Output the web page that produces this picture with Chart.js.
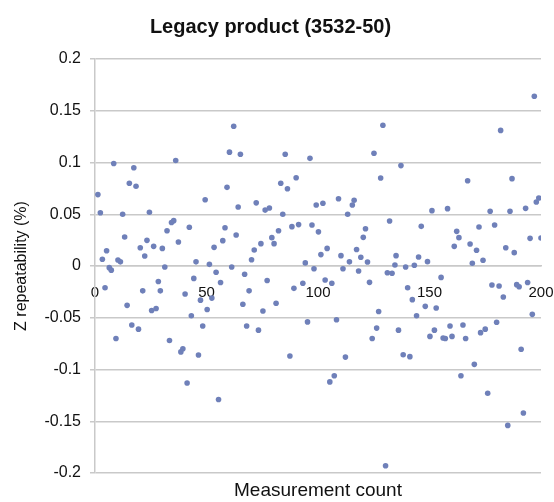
<!DOCTYPE html>
<html>
<head>
<meta charset="utf-8">
<title>Legacy product (3532-50)</title>
<script src="https://cdn.jsdelivr.net/npm/chart.js@4/dist/chart.umd.min.js"></script>
<style>
    html, body { margin: 0; padding: 0; background: #fff; }
    #wrap { width: 554px; height: 502px; }
</style>
</head>
<body>
<div id="wrap"><canvas id="repeatChart"></canvas></div>
<script>
const measureCount = [
    1.3, 2.4, 3.3, 4.5, 5.2, 6.4, 7.3, 8.4, 9.4, 10.3,
    11.4, 12.4, 13.3, 14.4, 15.4, 16.5, 17.4, 18.4, 19.5, 20.3,
    21.4, 22.3, 23.3, 24.4, 25.4, 26.3, 27.4, 28.4, 29.3, 30.2,
    31.3, 32.3, 33.4, 34.3, 35.3, 36.2, 37.4, 38.5, 39.4, 40.4,
    41.3, 42.3, 43.2, 44.3, 45.3, 46.4, 47.3, 48.3, 49.4, 50.3,
    51.3, 52.4, 53.4, 54.3, 55.4, 56.3, 57.3, 58.3, 59.2, 60.3,
    61.3, 62.2, 63.3, 64.2, 65.2, 66.3, 67.1, 68.0, 69.1, 70.2,
    71.4, 72.3, 73.3, 74.4, 75.3, 76.3, 77.2, 78.2, 79.3, 80.3,
    81.2, 82.3, 83.3, 84.2, 85.3, 86.3, 87.4, 88.3, 89.2, 90.2,
    91.3, 93.2, 94.3, 95.3, 96.4, 97.3, 98.2, 99.2, 100.2, 101.3,
    102.2, 103.2, 104.1, 105.3, 106.2, 107.3, 108.3, 109.2, 110.3, 111.2,
    112.3, 113.3, 114.1, 115.4, 116.2, 117.3, 118.2, 119.2, 120.3, 121.3,
    122.2, 123.1, 124.3, 125.1, 126.3, 127.2, 128.1, 129.1, 130.3, 131.1,
    132.1, 133.2, 134.5, 135.0, 136.1, 137.2, 138.2, 139.3, 140.2, 141.2,
    142.3, 143.2, 144.2, 145.1, 146.3, 148.1, 149.1, 150.2, 151.1, 152.2,
    153.0, 155.2, 156.1, 157.1, 158.1, 159.2, 160.1, 161.1, 162.2, 163.2,
    164.1, 165.0, 166.2, 167.1, 168.2, 169.2, 170.1, 171.1, 172.2, 172.9,
    174.0, 175.0, 176.1, 177.2, 178.0, 179.2, 180.1, 181.2, 181.9, 183.1,
    184.2, 185.1, 186.1, 187.0, 188.0, 189.1, 190.2, 191.1, 192.1, 193.1,
    194.0, 195.1, 196.1, 197.0, 197.9, 199.0, 200.0
];
const zRepeat = [
    0.069, 0.0515, 0.0065, -0.021, 0.0148, -0.0016, -0.004, 0.099, -0.070, 0.0058,
    0.004, 0.050, 0.028, -0.038, 0.080, -0.057, 0.095, 0.077, -0.061, 0.0177,
    -0.024, 0.0097, 0.0248, 0.052, -0.043, 0.019, -0.041, -0.015, -0.024, 0.017,
    -0.001, 0.034, -0.072, 0.042, 0.0438, 0.102, 0.0232, -0.083, -0.080, -0.027,
    -0.113, 0.0374, -0.048, -0.012, 0.004, -0.086, -0.033, -0.058, 0.064, -0.042,
    0.0016, -0.031, 0.018, -0.006, -0.129, -0.016, 0.0245, 0.037, 0.076, 0.110,
    -0.001, 0.135, 0.030, 0.057, 0.108, -0.037, -0.008, -0.058, -0.024, 0.006,
    0.0155, 0.061, -0.062, 0.0216, -0.0435, 0.054, -0.014, 0.056, 0.0274, 0.0216,
    -0.036, 0.034, 0.080, 0.050, 0.108, 0.0747, -0.087, 0.038, -0.0216, 0.0853,
    0.040, -0.0167, 0.003, -0.054, 0.104, 0.0396, -0.0026, 0.059, 0.033, 0.011,
    0.0606, -0.0135, 0.017, -0.112, -0.0167, -0.106, -0.052, 0.065, 0.010, -0.0026,
    -0.088, 0.050, 0.004, 0.059, 0.0635, 0.016, -0.0048, 0.0084, 0.0277, 0.036,
    0.0039, -0.0158, -0.070, 0.109, -0.060, -0.044, 0.085, 0.136, -0.193, -0.0065,
    0.0435, -0.007, 0.001, 0.010, -0.062, 0.097, -0.0857, -0.001, -0.021, -0.0876,
    -0.0325, 0.0007, -0.048, 0.0087, 0.0383, -0.039, 0.0042, -0.068, 0.0535, -0.062,
    -0.0406, -0.011, -0.0696, -0.070, 0.0554, -0.058, -0.068, 0.019, 0.0335, 0.0274,
    -0.106, -0.057, -0.070, 0.0824, 0.0213, 0.0026, -0.095, 0.0152, 0.0377, -0.0644,
    0.0055, -0.061, -0.123, 0.0529, -0.0184, 0.0396, -0.0544, -0.0193, 0.131, -0.030,
    0.0177, -0.154, 0.0529, 0.0844, 0.0129, -0.018, -0.020, -0.0805, -0.142, 0.0557,
    -0.016, 0.0267, -0.0467, 0.164, 0.0618, 0.0657, 0.027
];
const xTicks = [0, 50, 100, 150, 200];
const yTicks = [-0.2, -0.15, -0.1, -0.05, 0, 0.05, 0.1, 0.15, 0.2];

const FONT = "'Liberation Sans', Arial, Helvetica, sans-serif";
const GRID = '#c9c9c9';

/**
 * Scatter plot of Z repeatability against measurement count
 * @param {string} canvasId - HTML canvas element ID
 */
function renderRepeatabilityChart(canvasId) {
    const ctx = document.getElementById(canvasId);
    if (!ctx) return null;

    const points = measureCount.map((x, i) => ({ x: x, y: zRepeat[i] }));

    return new Chart(ctx, {
        type: 'scatter',
        data: {
            datasets: [{
                data: points,
                backgroundColor: '#6f80b9',
                borderColor: '#6f80b9',
                pointRadius: 2.8,
                borderWidth: 0
            }]
        },
        options: {
            responsive: true,
            maintainAspectRatio: false,
            animation: false,
            layout: { padding: { left: 0, right: 13, top: 0, bottom: 0 } },
            plugins: {
                legend: { display: false },
                tooltip: { enabled: false },
                title: {
                    display: true,
                    text: 'Legacy product (3532-50)',
                    color: '#111',
                    font: { family: FONT, size: 20, weight: 'bold' },
                    padding: { top: 15, bottom: 20 }
                }
            },
            scales: {
                // axis drawn through y = 0, labels sit inside the plot
                x: {
                    type: 'linear',
                    position: { y: 0 },
                    min: 0,
                    max: 200,
                    afterBuildTicks: (scale) => {
                        scale.ticks = xTicks.map(v => ({ value: v }));
                    },
                    ticks: {
                        color: '#111',
                        font: { family: FONT, size: 15 },
                        padding: 10,
                        maxRotation: 0
                    },
                    grid: { display: false },
                    border: { display: true, color: GRID, width: 1.5 },
                    // the "200" label may hang past the plot, don't shrink the area for it
                    afterFit: (scale) => {
                        scale.paddingLeft = 0;
                        scale.paddingRight = 0;
                    }
                },
                // carries only the bottom axis title
                x2: {
                    type: 'linear',
                    position: 'bottom',
                    min: 0,
                    max: 200,
                    ticks: { display: false },
                    grid: { display: false },
                    border: { display: false },
                    title: {
                        display: true,
                        text: 'Measurement count',
                        color: '#111',
                        font: { family: FONT, size: 19 },
                        padding: { top: 0, bottom: 0 }
                    },
                    afterFit: (scale) => { scale.height = 29; }
                },
                y: {
                    min: -0.2,
                    max: 0.2,
                    afterBuildTicks: (scale) => {
                        scale.ticks = yTicks.map(v => ({ value: v }));
                    },
                    ticks: {
                        color: '#111',
                        font: { family: FONT, size: 16 },
                        padding: 9,
                        callback: (v) => String(+v.toFixed(2))
                    },
                    grid: {
                        color: GRID,
                        lineWidth: 1.5,
                        tickLength: 5,
                        tickColor: GRID
                    },
                    border: { display: true, color: GRID, width: 1.5 },
                    title: {
                        display: true,
                        text: 'Z repeatability (%)',
                        color: '#111',
                        font: { family: FONT, size: 16 },
                        padding: { top: 12, bottom: 0 }
                    },
                    afterFit: (scale) => { scale.width = 95; }
                }
            }
        }
    });
}

renderRepeatabilityChart('repeatChart');
</script>
</body>
</html>
